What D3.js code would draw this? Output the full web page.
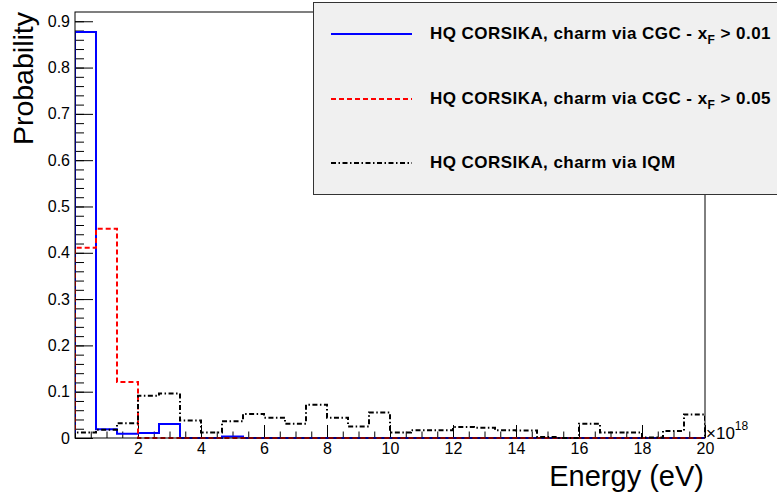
<!DOCTYPE html>
<html>
<head>
<meta charset="utf-8">
<script src="https://cdn.jsdelivr.net/npm/d3@7"></script>
<style>
  body { margin: 0; background: #fff; }
  svg { display: block; font-family: "Liberation Sans", Arial, Helvetica, sans-serif; }
  .axis text { font-size: 16px; fill: #000; }
  .axis line { stroke: #000; stroke-width: 1; }
  .axis .domain { display: none; }
  .hist { fill: none; stroke-width: 2; }
  .leg-text { font-size: 17px; font-weight: bold; fill: #000; letter-spacing: 0.45px; }
</style>
</head>
<body>
<svg id="chart" width="777" height="495"></svg>
<script>
// energy bins: 30 bins of 0.667e18 eV from 0 to 20e18
const X_MIN = 0, X_MAX = 20, N_BINS = 30;
const Y_MIN = 0, Y_MAX = 0.92;

const xTicks = [0, 2, 4, 6, 8, 10, 12, 14, 16, 18, 20];
const yTicks = [0, 0.1, 0.2, 0.3, 0.4, 0.5, 0.6, 0.7, 0.8, 0.9];

// probability per bin
const cgc001 = [0.877, 0.019, 0.009, 0.011, 0.030, 0, 0, 0.003, 0, 0,
                0, 0, 0, 0, 0, 0, 0, 0, 0, 0,
                0, 0, 0, 0, 0, 0, 0, 0, 0, 0];
const cgc005 = [0.411, 0.452, 0.121, 0, 0, 0, 0, 0, 0, 0,
                0, 0, 0, 0, 0, 0, 0, 0, 0, 0,
                0, 0, 0, 0, 0, 0, 0, 0, 0, 0];
const iqm    = [0.012, 0.018, 0.032, 0.091, 0.096, 0.038, 0.012, 0.036, 0.052, 0.044,
                0.031, 0.072, 0.044, 0.025, 0.055, 0.012, 0.017, 0.017, 0.024, 0.022,
                0.017, 0.016, 0.002, 0, 0.031, 0.012, 0.012, 0.001, 0.015, 0.051];

const seriesNames = [
  "HQ CORSIKA, charm via CGC - x",
  "HQ CORSIKA, charm via CGC - x",
  "HQ CORSIKA, charm via IQM"
];
const seriesSubs = ["F", "F", ""];
const seriesTails = [" > 0.01", " > 0.05", ""];

const svg = d3.select("#chart");
const margin = { top: 12, right: 72, bottom: 57, left: 75 };
const W = 777, H = 495;
const innerW = W - margin.left - margin.right;
const innerH = H - margin.top - margin.bottom;

const g = svg.append("g").attr("transform", `translate(${margin.left},${margin.top})`);

const x = d3.scaleLinear().domain([X_MIN, X_MAX]).range([0, innerW]);
const y = d3.scaleLinear().domain([Y_MIN, Y_MAX]).range([innerH, 0]);

g.append("clipPath").attr("id", "frame-clip")
  .append("rect").attr("width", innerW).attr("height", innerH + 1);

/* ---------- axes (ROOT style, ticks inside) ---------- */
const xMinor = d3.range(X_MIN, X_MAX + 0.001, 0.5);
const yMinor = d3.range(0, Y_MAX, 0.02);

g.append("g").attr("class", "axis")
  .attr("transform", `translate(0,${innerH})`)
  .call(d3.axisBottom(x).tickValues(xMinor).tickSize(-6.5).tickFormat(""));
g.append("g").attr("class", "axis")
  .attr("transform", `translate(0,${innerH})`)
  .call(d3.axisBottom(x).tickValues(xTicks).tickSize(-13).tickPadding(5)
    .tickFormat(d => d === 0 ? "" : d));

g.append("g").attr("class", "axis")
  .call(d3.axisLeft(y).tickValues(yMinor).tickSize(-9).tickFormat(""));
g.append("g").attr("class", "axis")
  .call(d3.axisLeft(y).tickValues(yTicks).tickSize(-18).tickPadding(5)
    .tickFormat(d3.format("~g")));

/* ---------- histograms ---------- */
const binW = (X_MAX - X_MIN) / N_BINS;
function stepPoints(vals) {
  const pts = [[X_MIN, 0]];
  vals.forEach((v, i) => {
    pts.push([X_MIN + i * binW, v]);
    pts.push([X_MIN + (i + 1) * binW, v]);
  });
  pts.push([X_MAX, 0]);
  return pts;
}
const line = d3.line().x(d => x(d[0])).y(d => y(d[1]));

const hists = [
  { vals: cgc001, color: "#0000ff", dash: null },
  { vals: cgc005, color: "#ff0000", dash: "5,3" },
  { vals: iqm,    color: "#000000", dash: "5,2.5,1.5,2.5" }
];

const histG = g.append("g").attr("clip-path", "url(#frame-clip)");
hists.forEach(h => {
  histG.append("path")
    .datum(stepPoints(h.vals))
    .attr("class", "hist")
    .attr("stroke", h.color)
    .attr("stroke-dasharray", h.dash)
    .attr("d", line);
});

/* ---------- frame ---------- */
g.append("rect")
  .attr("width", innerW).attr("height", innerH)
  .attr("fill", "none").attr("stroke", "#000").attr("stroke-width", 1);

/* ---------- axis titles ---------- */
g.append("text")
  .attr("x", innerW - 1).attr("y", innerH + 48)
  .attr("text-anchor", "end")
  .style("font-size", "29px")
  .text("Energy (eV)");

const expo = g.append("text")
  .attr("x", innerW + 1).attr("y", innerH + 1)
  .style("font-size", "17px");
expo.append("tspan").text("\u00d710");
expo.append("tspan").attr("dy", -9).style("font-size", "12px").text("18");

svg.append("text")
  .attr("transform", "rotate(-90)")
  .attr("x", -margin.top).attr("y", 33)
  .attr("text-anchor", "end")
  .style("font-size", "28.5px")
  .text("Probability");

/* ---------- legend ---------- */
const leg = svg.append("g");
leg.append("rect")
  .attr("x", 313.5).attr("y", 2.5)
  .attr("width", 480).attr("height", 192)
  .attr("fill", "#f0f0f0").attr("stroke", "#333").attr("stroke-width", 1);

const legY = [34, 99, 163];
hists.forEach((h, i) => {
  leg.append("line")
    .attr("x1", 331).attr("x2", 412)
    .attr("y1", legY[i]).attr("y2", legY[i])
    .attr("stroke", h.color).attr("stroke-width", 2)
    .attr("stroke-dasharray", h.dash);
  const t = leg.append("text").attr("class", "leg-text")
    .attr("x", 430).attr("y", legY[i] + 5);
  t.append("tspan").text(seriesNames[i]);
  if (seriesSubs[i]) {
    t.append("tspan").attr("dy", 5).style("font-size", "12px").text(seriesSubs[i]);
    t.append("tspan").attr("dy", -5).text(seriesTails[i]);
  }
});
</script>
</body>
</html>
